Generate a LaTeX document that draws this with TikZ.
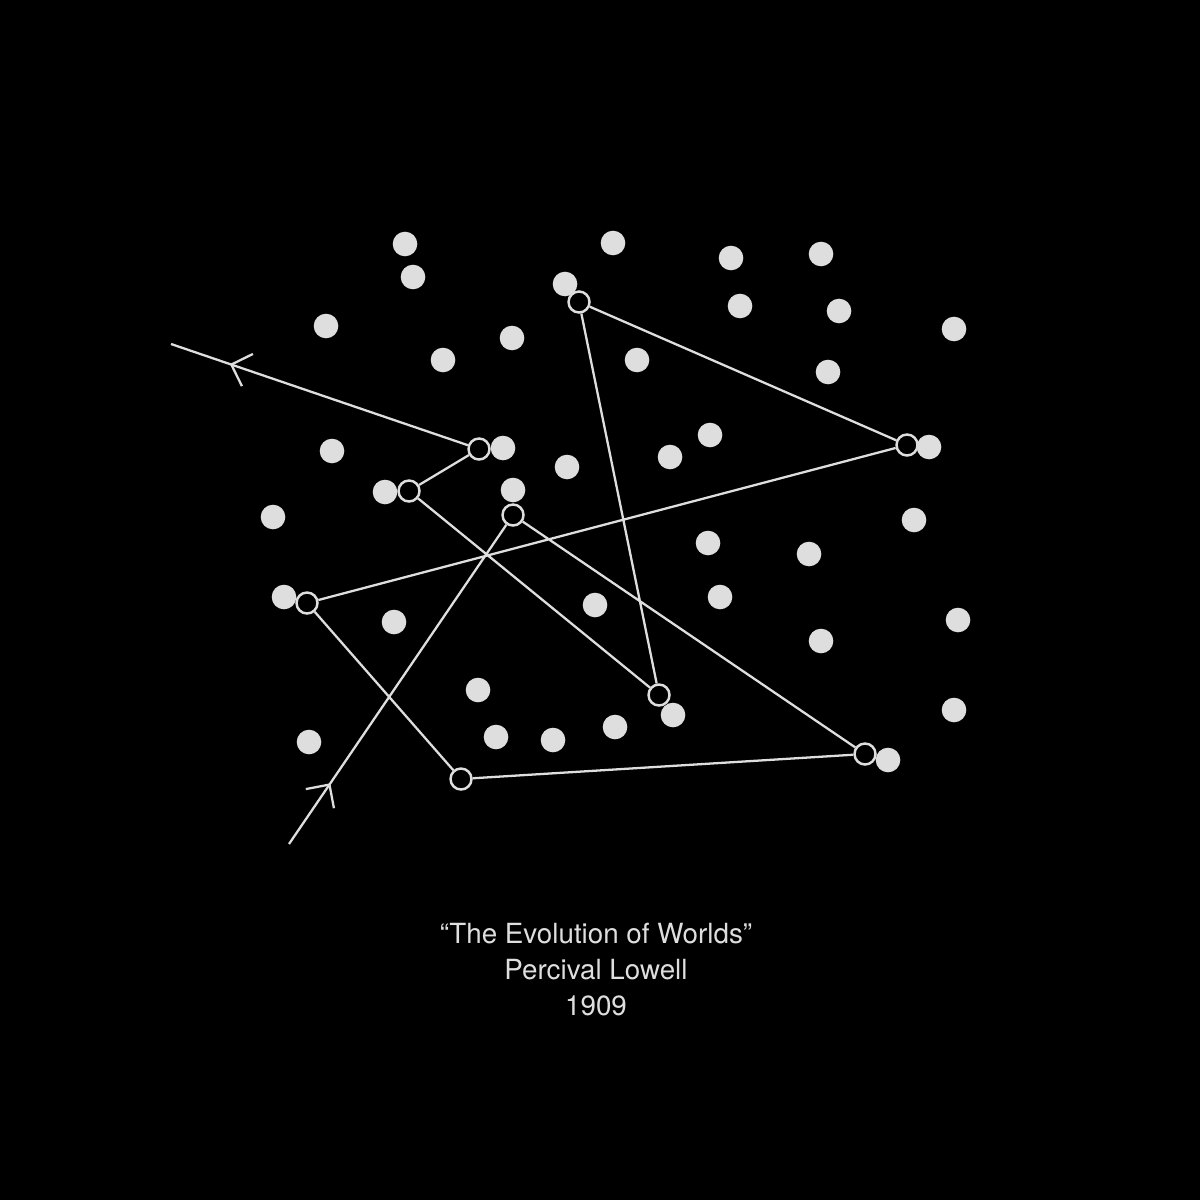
\documentclass[tikz,border=0pt]{standalone}
\usepackage{fontspec}
\setmainfont{TeX Gyre Heros}
\usetikzlibrary{arrows.meta,decorations.markings}
\definecolor{chalk}{HTML}{DEDEDE}
\tikzset{
  stop/.style={circle,draw=chalk,fill=black,line width=0.7pt,minimum size=2.1mm,inner sep=0pt},
  trail/.style={draw=chalk,line width=0.65pt,line join=round},
  barb/.style={chalk,line width=0.65pt},
  caption/.style={text=chalk,anchor=base,inner sep=0pt,font=\fontsize{7.9pt}{10pt}\selectfont},
}

\begin{document}
\begin{tikzpicture}[x=0.1mm,y=-0.1mm]
  \fill[black] (0,0) rectangle (1200,1200);
  \fill[chalk] (405,244) circle (1.23mm);
  \fill[chalk] (413,277) circle (1.23mm);
  \fill[chalk] (613,243) circle (1.23mm);
  \fill[chalk] (731,258) circle (1.23mm);
  \fill[chalk] (821,254) circle (1.23mm);
  \fill[chalk] (565,284) circle (1.23mm);
  \fill[chalk] (740,306) circle (1.23mm);
  \fill[chalk] (839,311) circle (1.23mm);
  \fill[chalk] (326,326) circle (1.23mm);
  \fill[chalk] (954,329) circle (1.23mm);
  \fill[chalk] (512,338) circle (1.23mm);
  \fill[chalk] (443,360) circle (1.23mm);
  \fill[chalk] (637,360) circle (1.23mm);
  \fill[chalk] (828,372) circle (1.23mm);
  \fill[chalk] (710,435) circle (1.23mm);
  \fill[chalk] (332,451) circle (1.23mm);
  \fill[chalk] (503,448) circle (1.23mm);
  \fill[chalk] (670,457) circle (1.23mm);
  \fill[chalk] (567,467) circle (1.23mm);
  \fill[chalk] (929,447) circle (1.23mm);
  \fill[chalk] (385,492) circle (1.23mm);
  \fill[chalk] (513,490) circle (1.23mm);
  \fill[chalk] (273,517) circle (1.23mm);
  \fill[chalk] (914,520) circle (1.23mm);
  \fill[chalk] (708,543) circle (1.23mm);
  \fill[chalk] (809,554) circle (1.23mm);
  \fill[chalk] (284,597) circle (1.23mm);
  \fill[chalk] (720,597) circle (1.23mm);
  \fill[chalk] (595,605) circle (1.23mm);
  \fill[chalk] (394,622) circle (1.23mm);
  \fill[chalk] (958,620) circle (1.23mm);
  \fill[chalk] (821,641) circle (1.23mm);
  \fill[chalk] (478,690) circle (1.23mm);
  \fill[chalk] (673,715) circle (1.23mm);
  \fill[chalk] (954,710) circle (1.23mm);
  \fill[chalk] (309,742) circle (1.23mm);
  \fill[chalk] (496,737) circle (1.23mm);
  \fill[chalk] (553,740) circle (1.23mm);
  \fill[chalk] (615,727) circle (1.23mm);
  \fill[chalk] (888,760) circle (1.23mm);

  \coordinate (enter) at (289,844);
  \coordinate (exit) at (171,344);
  \node[stop] (p1) at (513,515) {};
  \node[stop] (p2) at (865,754) {};
  \node[stop] (p3) at (461,779) {};
  \node[stop] (p4) at (307,603) {};
  \node[stop] (p5) at (907,445) {};
  \node[stop] (p6) at (579,302) {};
  \node[stop] (p7) at (659,695) {};
  \node[stop] (p8) at (409,491) {};
  \node[stop] (p9) at (479,449) {};
  \draw[trail,postaction={decorate},decoration={markings,
      mark=at position 7.35mm with {\arrow[barb]{Straight Barb[length=1.7mm,width=3.4mm]}},
      mark=at position -6.2mm with {\arrow[barb]{Straight Barb[length=1.7mm,width=3.4mm]}}}]
    (enter) -- (p1) -- (p2) -- (p3) -- (p4) -- (p5) -- (p6) -- (p7) -- (p8) -- (p9) -- (exit);

  \node[caption] (title) at (596,943) {“The Evolution of Worlds”};
  \node[caption] (author) at (596,979) {Percival Lowell};
  \node[caption] (year) at (596,1015) {1909};
\end{tikzpicture}
\end{document}
